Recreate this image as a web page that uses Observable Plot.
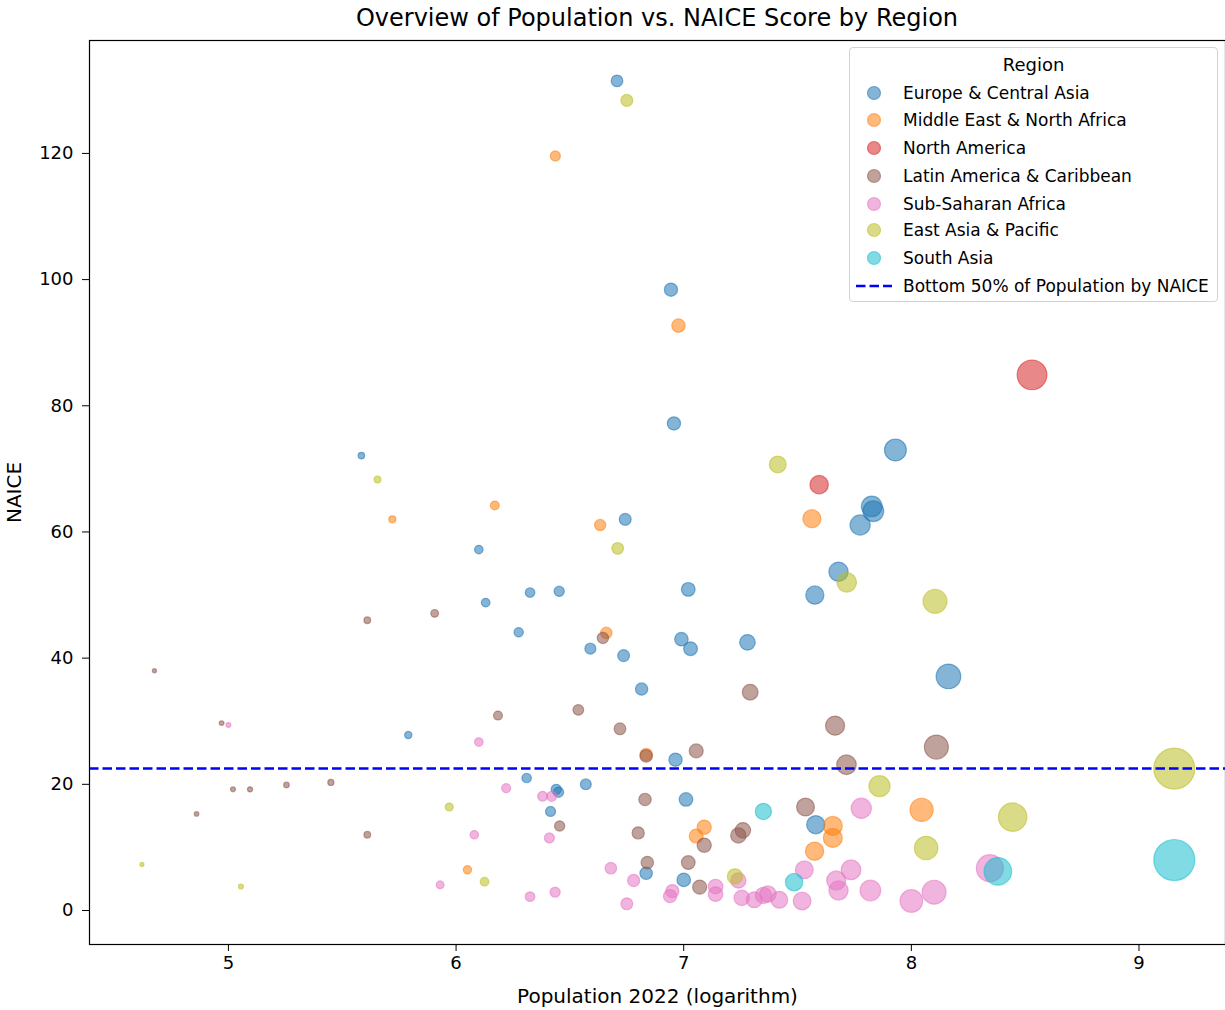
<!DOCTYPE html>
<html><head><meta charset="utf-8">
<script src="https://cdn.jsdelivr.net/npm/d3@7"></script>
<script src="https://cdn.jsdelivr.net/npm/@observablehq/plot@0.6"></script>
<style>
body{margin:0;background:#fff;font-family:"DejaVu Sans",sans-serif;color:#000;}
#wrap{position:relative;width:1225px;height:1010px;overflow:hidden;}
#title{height:36px;line-height:36px;text-align:center;font-size:24px;padding-left:89px;box-sizing:border-box;width:1225px;}
#legend{position:absolute;left:849px;top:47px;width:369px;height:255px;box-sizing:border-box;border:1px solid #d3d3d3;border-radius:4px;background:rgba(255,255,255,0.8);font-size:17px;}
#legend .row{position:absolute;left:0;height:28px;line-height:28px;white-space:nowrap;}
#legend .ttl{position:absolute;left:0;width:100%;text-align:center;top:3px;line-height:28px;font-size:18px;}
#legend svg{position:absolute;left:4px;top:0;}
#legend .lbl{position:absolute;left:53px;top:0;}
</style>
</head><body>
<div id="wrap">
<div id="title">Overview of Population vs. NAICE Score by Region</div>
<div id="chart"></div>
<div id="legend"></div>
</div>
<script>
const regions = ["Europe & Central Asia","Middle East & North Africa","North America","Latin America & Caribbean","Sub-Saharan Africa","East Asia & Pacific","South Asia"];
const regionColors = ["#1f77b4","#ff7f0e","#d62728","#8c564b","#e377c2","#bcbd22","#17becf"];
const thresholdLabel = "Bottom 50% of Population by NAICE";
const threshold = 22.5;
const xTicks = [5,6,7,8,9];
const yTicks = [0,20,40,60,80,100,120];

// log10 population 2022 and NAICE score, per region
const europePop =   [6.707,6.944,6.957,7.93,5.584,7.826,7.833,7.775,6.743,6.10,7.68,7.02,7.576,6.325,6.453,6.13,6.275,6.99,7.28,6.59,7.03,6.736,8.163,6.815,5.79,6.964,6.31,6.44,6.45,6.57,6.415,7.01,7.58,6.835,7.0];
const europeNaice = [131.5,98.4,77.2,73.0,72.1,64.05,63.3,61.1,62.0,57.2,53.7,50.9,50.0,50.4,50.6,48.8,44.1,43.0,42.5,41.5,41.5,40.4,37.1,35.1,27.8,23.9,21.0,19.2,18.75,20.0,15.7,17.6,13.6,5.9,4.85];
const menaPop =   [6.436,6.977,6.17,5.72,6.633,7.563,6.66,6.835,8.045,7.09,7.055,7.655,7.655,7.575,6.05];
const menaNaice = [119.6,92.7,64.2,62.0,61.1,62.1,44.0,24.7,15.95,13.2,11.8,13.4,11.5,9.4,6.45];
const northAmPop =   [8.53,7.595];
const northAmNaice = [84.9,67.5];
const latamPop =   [4.675,4.97,5.61,5.906,6.645,7.292,6.537,6.184,6.72,7.665,8.11,7.055,6.835,7.715,5.02,5.095,5.255,5.45,4.86,5.61,6.455,6.83,7.535,6.80,7.24,7.26,7.09,6.84,7.02,7.07];
const latamNaice = [38.0,29.7,46.0,47.1,43.2,34.6,31.8,30.9,28.8,29.3,25.9,25.3,24.5,23.1,19.2,19.2,19.9,20.3,15.3,12.0,13.4,17.6,16.4,12.3,11.9,12.7,10.35,7.6,7.6,3.7];
const ssaPop =   [5.0,6.10,6.22,6.38,6.42,6.08,6.41,6.68,5.93,6.325,6.435,7.78,7.53,7.735,8.345,7.67,7.68,7.82,7.52,8.0,8.10,7.42,7.24,6.78,7.14,7.14,6.95,6.94,6.75,7.255,7.31,7.35,7.37];
const ssaNaice = [29.4,26.7,19.4,18.1,18.1,12.0,11.5,6.7,4.07,2.2,2.9,16.2,6.45,6.45,6.7,4.75,3.17,3.17,1.5,1.5,2.9,1.7,4.75,4.75,3.8,2.6,3.06,2.27,1.06,2.0,1.7,2.4,2.6];
const eapPop =   [6.75,7.413,5.655,6.71,7.716,8.104,7.86,9.155,8.445,8.065,5.97,6.125,4.62,5.055,7.225];
const eapNaice = [128.4,70.7,68.3,57.4,52.0,49.0,19.7,22.5,14.8,9.9,16.4,4.55,7.3,3.8,5.4];
const southAsiaPop =   [7.35,7.485,8.38,9.155];
const southAsiaNaice = [15.7,4.5,6.2,8.0];

const pops = [europePop, menaPop, northAmPop, latamPop, ssaPop, eapPop, southAsiaPop];
const naices = [europeNaice, menaNaice, northAmNaice, latamNaice, ssaNaice, eapNaice, southAsiaNaice];
const data = [];
regions.forEach((r, i) => pops[i].forEach((p, j) => data.push({region: r, pop: p, naice: naices[i][j]})));

const chart = Plot.plot({
  width: 1225, height: 974,
  marginTop: 4, marginBottom: 66, marginLeft: 89, marginRight: 0,
  style: {fontFamily: "DejaVu Sans", fontSize: "18px", color: "#000", background: "#fff", overflow: "visible"},
  x: {domain: [4.3897, 9.38], ticks: xTicks, tickFormat: d => String(d), tickSize: 7, tickPadding: 5},
  y: {domain: [-5.39, 137.9], ticks: yTicks, tickFormat: d => String(d), tickSize: 7, tickPadding: 9},
  color: {domain: regions, range: regionColors},
  r: {type: "pow", exponent: 0.223, domain: [0, Math.pow(10, 9.155)], range: [0, 20.5]},
  marks: [
    Plot.axisX({ticks: xTicks, tickFormat: d => String(d), tickSize: 7, tickPadding: 5, label: null}),
    Plot.axisY({ticks: yTicks, tickFormat: d => String(d), tickSize: 7, tickPadding: 9, label: null}),
    Plot.axisX({ticks: [], label: "Population 2022 (logarithm)", labelAnchor: "center", labelArrow: "none", labelOffset: 58, fontSize: 20}),
    Plot.axisY({ticks: [], label: "NAICE", labelAnchor: "center", labelArrow: "none", labelOffset: 83, fontSize: 20}),
    Plot.dot(data, {x: "pop", y: "naice", r: d => Math.pow(10, d.pop), fill: "region", stroke: "region",
      fillOpacity: 0.55, strokeOpacity: 0.55, strokeWidth: 1.2, sort: null}),
    Plot.ruleY([threshold], {stroke: "blue", strokeWidth: 2.5, strokeDasharray: "9.5,4"}),
    Plot.frame({stroke: "#000", strokeWidth: 1.2})
  ]
});
document.getElementById("chart").appendChild(chart);

// legend
const lg = document.getElementById("legend");
const ttl = document.createElement("div"); ttl.className = "ttl"; ttl.textContent = "Region"; lg.appendChild(ttl);
const rowCenters = [45, 72, 100, 128, 156, 182, 210, 238];
regions.forEach((r, i) => {
  const row = document.createElement("div"); row.className = "row"; row.style.top = (rowCenters[i] - 14) + "px";
  row.innerHTML = `<svg width="40" height="28"><circle cx="20" cy="14" r="6.5" fill="${regionColors[i]}" fill-opacity="0.55" stroke="${regionColors[i]}" stroke-opacity="0.55" stroke-width="1.2"/></svg><span class="lbl">${r.replace(/&/g,"&amp;")}</span>`;
  lg.appendChild(row);
});
const row = document.createElement("div"); row.className = "row"; row.style.top = (rowCenters[7] - 14) + "px";
row.innerHTML = `<svg width="40" height="28"><line x1="2" x2="38" y1="14" y2="14" stroke="blue" stroke-width="2.5" stroke-dasharray="9.5,4"/></svg><span class="lbl">${thresholdLabel}</span>`;
lg.appendChild(row);
</script>
</body></html>
